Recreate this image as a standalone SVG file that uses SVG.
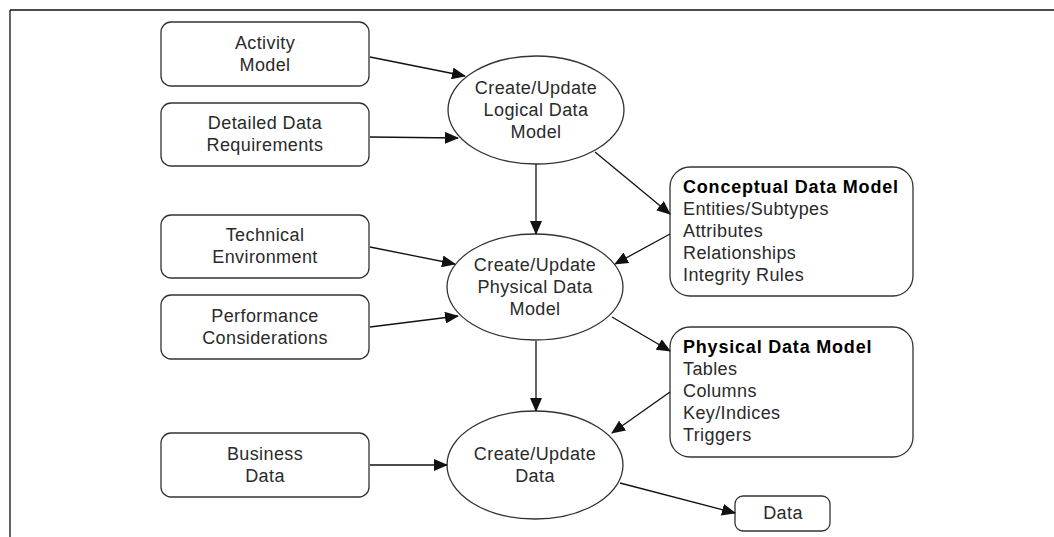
<svg xmlns="http://www.w3.org/2000/svg" width="1054" height="537" viewBox="0 0 1054 537">
<defs>
<marker id="ah" markerUnits="userSpaceOnUse" markerWidth="14" markerHeight="12" viewBox="0 0 14 12" refX="13" refY="6" orient="auto">
<path d="M0,0 L14,6 L0,12 Z" fill="#111"/>
</marker>
<style>
.box{fill:#fff;stroke:#333;stroke-width:1.3}
.ell{fill:#fff;stroke:#333;stroke-width:1.3}
.t{font-family:"Liberation Sans",Arial,sans-serif;font-size:18px;letter-spacing:0.4px;fill:#2a2a2a;text-anchor:middle}
.l{font-family:"Liberation Sans",Arial,sans-serif;font-size:18px;letter-spacing:0.4px;fill:#2a2a2a}
.b{font-weight:bold;fill:#000;letter-spacing:0.8px}
.c{stroke:#111;stroke-width:1.3;fill:none;marker-end:url(#ah)}
</style>
</defs>
<rect width="1054" height="537" fill="#fff"/>
<g id="frame">
<line x1="10" y1="10" x2="1054" y2="10" stroke="#111" stroke-width="1.6"/>
<line x1="10" y1="10" x2="10" y2="537" stroke="#111" stroke-width="1.3"/>
</g>
<g id="activity-model"><rect class="box" x="161" y="22" width="208" height="64" rx="10"/><text class="t" x="265" y="49">Activity</text><text class="t" x="265" y="71">Model</text></g>
<g id="detailed-data-requirements"><rect class="box" x="161" y="103" width="208" height="63" rx="10"/><text class="t" x="265" y="129">Detailed Data</text><text class="t" x="265" y="151">Requirements</text></g>
<g id="technical-environment"><rect class="box" x="161" y="215" width="208" height="63" rx="10"/><text class="t" x="265" y="241">Technical</text><text class="t" x="265" y="263">Environment</text></g>
<g id="performance-considerations"><rect class="box" x="161" y="295" width="208" height="64" rx="10"/><text class="t" x="265" y="322">Performance</text><text class="t" x="265" y="344">Considerations</text></g>
<g id="business-data"><rect class="box" x="161" y="433" width="208" height="64" rx="10"/><text class="t" x="265" y="460">Business</text><text class="t" x="265" y="482">Data</text></g>
<g id="logical"><ellipse class="ell" cx="536" cy="110" rx="88" ry="54"/><text class="t" x="536" y="94">Create/Update</text><text class="t" x="536" y="116">Logical Data</text><text class="t" x="536" y="138">Model</text></g>
<g id="physical"><ellipse class="ell" cx="535" cy="287" rx="88" ry="53"/><text class="t" x="535" y="271">Create/Update</text><text class="t" x="535" y="293">Physical Data</text><text class="t" x="535" y="315">Model</text></g>
<g id="data-process"><ellipse class="ell" cx="535" cy="465" rx="88" ry="54"/><text class="t" x="535" y="460">Create/Update</text><text class="t" x="535" y="482">Data</text></g>
<g id="conceptual-data-model"><rect class="box" x="670" y="167" width="243" height="129" rx="20"/><text class="l b" x="683" y="193">Conceptual Data Model</text><text class="l" x="683" y="215">Entities/Subtypes</text><text class="l" x="683" y="237">Attributes</text><text class="l" x="683" y="259">Relationships</text><text class="l" x="683" y="281">Integrity Rules</text></g>
<g id="physical-data-model"><rect class="box" x="670" y="327" width="243" height="130" rx="20"/><text class="l b" x="683" y="353">Physical Data Model</text><text class="l" x="683" y="375">Tables</text><text class="l" x="683" y="397">Columns</text><text class="l" x="683" y="419">Key/Indices</text><text class="l" x="683" y="441">Triggers</text></g>
<g id="data"><rect class="box" x="735" y="496" width="95" height="35" rx="8"/><text class="t" x="783" y="519">Data</text></g>
<g id="connectors">
<line class="c" x1="370" y1="57" x2="465" y2="76"/>
<line class="c" x1="370" y1="137" x2="458" y2="138"/>
<line class="c" x1="370" y1="247" x2="455" y2="264"/>
<line class="c" x1="370" y1="327" x2="458" y2="316"/>
<line class="c" x1="370" y1="465" x2="447" y2="465"/>
<line class="c" x1="536" y1="164" x2="536" y2="234"/>
<line class="c" x1="595" y1="152" x2="670" y2="214"/>
<line class="c" x1="670" y1="234" x2="615" y2="264"/>
<line class="c" x1="612" y1="317" x2="670" y2="351"/>
<line class="c" x1="670" y1="392" x2="612" y2="433"/>
<line class="c" x1="536" y1="341" x2="536" y2="411"/>
<line class="c" x1="620" y1="483" x2="735" y2="513"/>
</g>
</svg>
